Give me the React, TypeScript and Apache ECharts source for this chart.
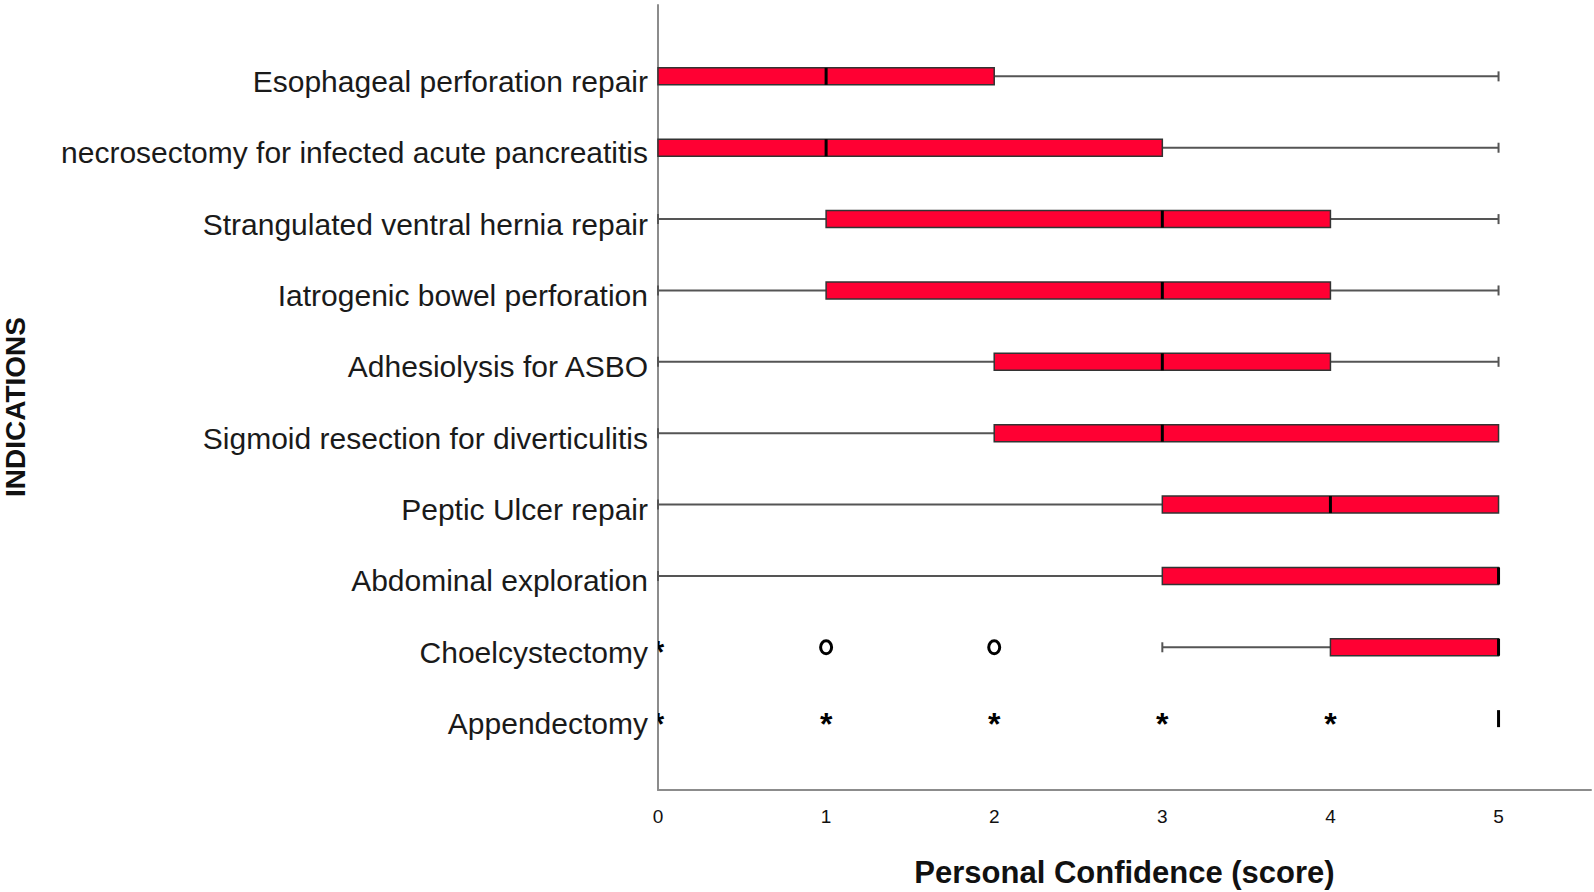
import React, { useEffect, useRef } from "react";
import * as echarts from "echarts";

const categories = [
  "Esophageal perforation repair",
  "necrosectomy for infected acute pancreatitis",
  "Strangulated ventral hernia repair",
  "Iatrogenic bowel perforation",
  "Adhesiolysis for ASBO",
  "Sigmoid resection for diverticulitis",
  "Peptic Ulcer repair",
  "Abdominal exploration",
  "Choelcystectomy",
  "Appendectomy",
];

// [whisker low, Q1, median, Q3, whisker high]
const boxStats = [
  [0, 0, 1, 2, 5],
  [0, 0, 1, 3, 5],
  [0, 1, 3, 4, 5],
  [0, 1, 3, 4, 5],
  [0, 2, 3, 4, 5],
  [0, 2, 3, 5, 5],
  [0, 3, 4, 5, 5],
  [0, 3, 5, 5, 5],
  [3, 4, 5, 5, 5],
  [5, 5, 5, 5, 5],
];

// outliers: [category index, value]
const mildOutliers = [
  [8, 1],
  [8, 2],
];
const extremeOutliers = [
  [8, 0],
  [9, 0],
  [9, 1],
  [9, 2],
  [9, 3],
  [9, 4],
];

const xTicks = [0, 1, 2, 3, 4, 5];

export default function App() {
  const ref = useRef<HTMLDivElement>(null);

  useEffect(() => {
    if (!ref.current) return;
    const chart = echarts.init(ref.current, null, { renderer: "svg" });
    const axisCats = [" ", ...categories, "  "];
    const boxData = boxStats.map((s, i) => [i + 1, ...s]);
    const mildData = mildOutliers.map((o) => [o[1], o[0] + 1]);
    const extData = extremeOutliers.map((o) => [o[1], o[0] + 1]);

    const halfH = 8.5;
    const capH = 5;

    chart.setOption({
      animation: false,
      backgroundColor: "#ffffff",
      grid: {
        left: 658,
        top: 5,
        width: 933,
        height: 785,
        containLabel: false,
        outerBoundsMode: "none",
      },
      xAxis: {
        type: "value",
        min: 0,
        max: 5.55,
        interval: 1,
        splitLine: { show: false },
        axisTick: { show: false },
        axisLine: { show: true, lineStyle: { color: "#8c8c8c", width: 2 } },
        axisLabel: {
          margin: 17,
          fontSize: 19,
          color: "#111",
          fontFamily: "'Liberation Sans Narrow', 'Liberation Sans', Arial, sans-serif",
          formatter: (v: number) => (xTicks.indexOf(v) >= 0 ? String(v) : ""),
        },
        name: "Personal Confidence (score)",
        nameLocation: "middle",
        nameGap: 67,
        nameTextStyle: {
          fontSize: 31,
          fontWeight: "bold",
          color: "#111",
          fontFamily: "'Liberation Sans Narrow', 'Liberation Sans', Arial, sans-serif",
        },
      },
      yAxis: {
        type: "category",
        data: axisCats,
        inverse: true,
        boundaryGap: false,
        splitLine: { show: false },
        axisTick: { show: false },
        axisLine: { show: true, lineStyle: { color: "#8c8c8c", width: 2 } },
        axisLabel: {
          interval: 0,
          margin: 10,
          fontSize: 30,
          color: "#1a1a1a",
          verticalAlign: "top",
          lineHeight: 10,
          fontFamily: "'Liberation Sans', Arial, sans-serif",
        },
      },
      graphic: [
        {
          type: "text",
          x: 15,
          y: 407,
          rotation: Math.PI / 2,
          style: {
            text: "INDICATIONS",
            align: "center",
            verticalAlign: "middle",
            fontSize: 28,
            fontWeight: "bold",
            fill: "#111",
            fontFamily: "'Liberation Sans', Arial, sans-serif",
          },
        },
      ],
      series: [
        {
          type: "custom",
          clip: false,
          encode: { x: [1, 2, 3, 4, 5], y: 0 },
          data: boxData,
          renderItem: (params: any, api: any) => {
            const ci = api.value(0);
            const lo = api.value(1);
            const q1 = api.value(2);
            const med = api.value(3);
            const q3 = api.value(4);
            const hi = api.value(5);
            const pLo = api.coord([lo, ci]);
            const pQ1 = api.coord([q1, ci]);
            const pMed = api.coord([med, ci]);
            const pQ3 = api.coord([q3, ci]);
            const pHi = api.coord([hi, ci]);
            const y = pQ1[1];
            const children: any[] = [];
            const wStyle = { stroke: "#555", lineWidth: 2 };
            if (lo < q1) {
              children.push({ type: "line", shape: { x1: pLo[0], y1: y, x2: pQ1[0], y2: y }, style: wStyle });
              children.push({ type: "line", shape: { x1: pLo[0], y1: y - capH, x2: pLo[0], y2: y + capH }, style: wStyle });
            }
            if (hi > q3) {
              children.push({ type: "line", shape: { x1: pQ3[0], y1: y, x2: pHi[0], y2: y }, style: wStyle });
              children.push({ type: "line", shape: { x1: pHi[0], y1: y - capH, x2: pHi[0], y2: y + capH }, style: wStyle });
            }
            if (q3 > q1) {
              children.push({
                type: "rect",
                shape: { x: pQ1[0], y: y - halfH, width: pQ3[0] - pQ1[0], height: halfH * 2 },
                style: { fill: "#ff0033", stroke: "#333", lineWidth: 1.5 },
              });
            }
            children.push({
              type: "line",
              shape: { x1: pMed[0], y1: y - halfH, x2: pMed[0], y2: y + halfH },
              style: { stroke: "#000", lineWidth: 3 },
            });
            return { type: "group", children };
          },
          z: 3,
        },
        {
          type: "custom",
          clip: true,
          encode: { x: 0, y: 1 },
          data: mildData,
          renderItem: (params: any, api: any) => {
            const p = api.coord([api.value(0), api.value(1)]);
            return {
              type: "ellipse",
              shape: { cx: p[0], cy: p[1], rx: 5.5, ry: 6.5 },
              style: { fill: "#fff", stroke: "#000", lineWidth: 3 },
            };
          },
          z: 4,
        },
        {
          type: "custom",
          clip: true,
          encode: { x: 0, y: 1 },
          data: extData,
          renderItem: (params: any, api: any) => {
            const p = api.coord([api.value(0), api.value(1)]);
            return {
              type: "text",
              x: p[0],
              y: p[1] + 5,
              style: {
                text: "*",
                align: "center",
                verticalAlign: "middle",
                fontSize: 32,
                fontWeight: "bold",
                fill: "#000",
                fontFamily: "'Liberation Sans', Arial, sans-serif",
              },
            };
          },
          z: 4,
        },
      ],
    });
    return () => chart.dispose();
  }, []);

  return (
    <div
      ref={ref}
      style={{ position: "fixed", left: 0, top: 0, width: 1594, height: 892, background: "#fff" }}
    />
  );
}
